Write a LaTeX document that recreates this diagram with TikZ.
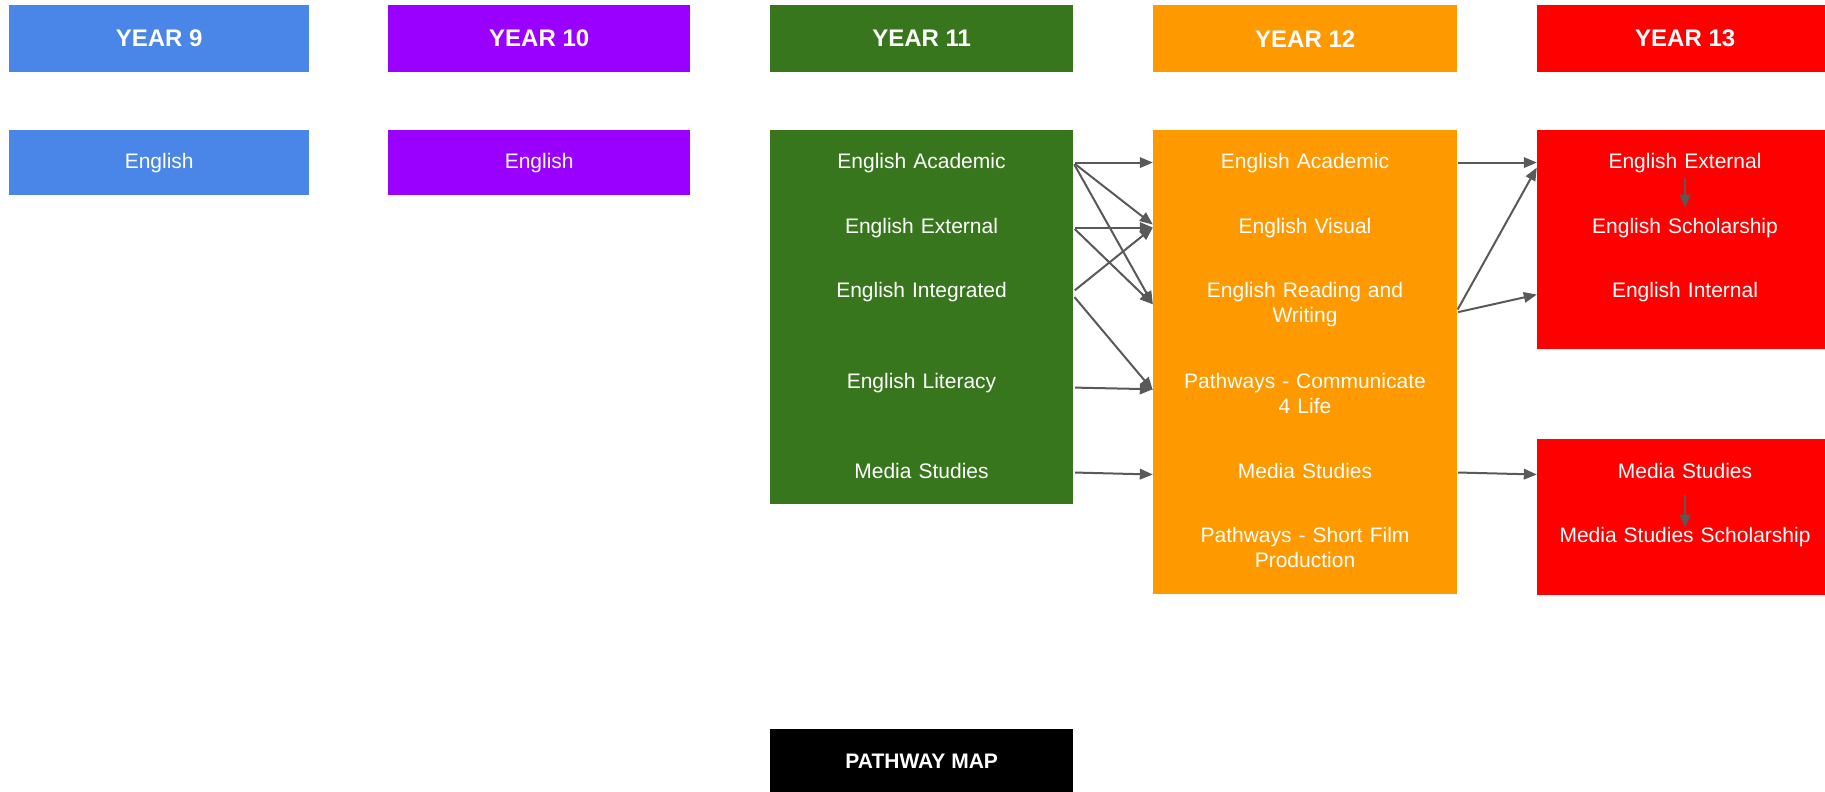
\documentclass[tikz,border=0pt]{standalone}
\usepackage{fontspec}
\setmainfont{Liberation Sans}
\usepackage{xcolor}
\usetikzlibrary{arrows.meta}
\definecolor{yrblue}{HTML}{4A86E8}
\definecolor{yrpurple}{HTML}{9900FF}
\definecolor{yrgreen}{HTML}{38761D}
\definecolor{yrorange}{HTML}{FF9900}
\definecolor{yrred}{HTML}{FF0000}
\definecolor{arrgray}{HTML}{595959}

\begin{document}
\begin{tikzpicture}[x=1pt,y=-1pt,
        panel/.style={rectangle,draw=none,inner sep=0pt,anchor=north west,text=white,
            font=\fontsize{21}{25.5}\selectfont},
        head/.style={panel,minimum height=67,font=\bfseries\fontsize{24}{28}\selectfont},
        lbl/.style={anchor=base,text width=#1,align=center,inner xsep=0pt,inner ysep=4pt,
            text=white,font=\fontsize{21}{25.5}\selectfont},
        arr/.style={draw=arrgray,line width=2pt,-{Triangle[length=13pt,width=10.5pt]}}]
        \useasboundingbox (0,0) rectangle (1825,792);

        % year headers
        \node[head,fill=yrblue,minimum width=300] (y9hd) at (9,5) {YEAR 9};
        \node[head,fill=yrpurple,minimum width=302] (y10hd) at (388,5) {YEAR 10};
        \node[head,fill=yrgreen,minimum width=303] (y11hd) at (770,5) {YEAR 11};
        \node[head,fill=yrorange,minimum width=304] (y12hd) at (1153,5) {YEAR 12};
        \node[head,fill=yrred,minimum width=296] (y13hd) at (1537,5) {YEAR 13};

        % subject boxes
        \node[panel,fill=yrblue,minimum width=300,minimum height=65] (y9box) at (9,130) {English};
        \node[panel,fill=yrpurple,minimum width=302,minimum height=65] (y10box) at (388,130) {English};
        \node[panel,fill=yrgreen,minimum width=303,minimum height=374] (y11box) at (770,130) {};
        \node[panel,fill=yrorange,minimum width=304,minimum height=464] (y12box) at (1153,130) {};
        \node[panel,fill=yrred,minimum width=296,minimum height=219] (y13box) at (1537,130) {};
        \node[panel,fill=yrred,minimum width=296,minimum height=156] (y13med) at (1537,439) {};

        \node[lbl=303] (e11aca) at (921.5,168) {English Academic};
        \node[lbl=303] (e11ext) at (921.5,233) {English External};
        \node[lbl=303] (e11int) at (921.5,297) {English Integrated};
        \node[lbl=303] (e11lit) at (921.5,388) {English Literacy};
        \node[lbl=303] (e11med) at (921.5,478) {Media Studies};

        \node[lbl=304] (e12aca) at (1305,168) {English Academic};
        \node[lbl=304] (e12vis) at (1305,233) {English Visual};
        \node[lbl=304] (e12rw) at (1305,297) {English Reading and\\Writing};
        \node[lbl=304] (e12c4l) at (1305,388) {Pathways - Communicate\\4 Life};
        \node[lbl=304] (e12med) at (1305,478) {Media Studies};
        \node[lbl=304] (e12sfp) at (1305,542) {Pathways - Short Film\\Production};

        \node[lbl=296] (e13ext) at (1685,168) {English External};
        \node[lbl=296] (e13sch) at (1685,233) {English Scholarship};
        \node[lbl=296] (e13int) at (1685,297) {English Internal};
        \node[lbl=296] (e13med) at (1685,478) {Media Studies};
        \node[lbl=296] (e13mss) at (1685,542) {Media Studies Scholarship};

        \node[panel,fill=black,minimum width=303,minimum height=64,
            font=\bfseries\fontsize{21}{25}\selectfont] (pmap) at (770,729) {PATHWAY MAP};

        % year 11 to year 12
        \draw[arr,shorten <=2pt] (e11aca.east) -- (e12aca.west);
        \draw[arr,shorten <=2pt] (e11aca.east) -- ([yshift=3pt]e12vis.west);
        \draw[arr,shorten <=2pt] (e11aca.east) -- (e12rw.west);
        \draw[arr,shorten <=2pt] (e11ext.east) -- (e12vis.west);
        \draw[arr,shorten <=2pt] (e11ext.east) -- (e12rw.west);
        \draw[arr,shorten <=2pt] (e11int.east) -- (e12vis.west);
        \draw[arr,shorten <=2pt] ([yshift=-4pt]e11int.east) -- ([yshift=3pt]e12c4l.west);
        \draw[arr,shorten <=2pt] ([yshift=-5pt]e11lit.east) -- ([yshift=4pt]e12c4l.west);
        \draw[arr,shorten <=2pt] ([yshift=-2pt]e11med.east) -- ([yshift=-4pt]e12med.west);

        % year 12 to year 13
        \draw[arr,shorten <=1pt] (e12aca.east) -- (e13ext.west);
        \draw[arr,shorten <=1pt] ([yshift=-6pt]e12rw.east) -- ([yshift=-5pt]e13ext.west);
        \draw[arr,shorten <=1pt] ([yshift=-8pt]e12rw.east) -- ([yshift=-3pt]e13int.west);
        \draw[arr,shorten <=1pt] ([yshift=-2pt]e12med.east) -- ([yshift=-4pt]e13med.west);

        % inside year 13
        \draw[arr] ([yshift=-1pt]e13ext.south) -- ([yshift=6pt]e13sch.north);
        \draw[arr] ([yshift=-13pt]e13med.south) -- ([yshift=-5pt]e13mss.north);
\end{tikzpicture}
\end{document}
